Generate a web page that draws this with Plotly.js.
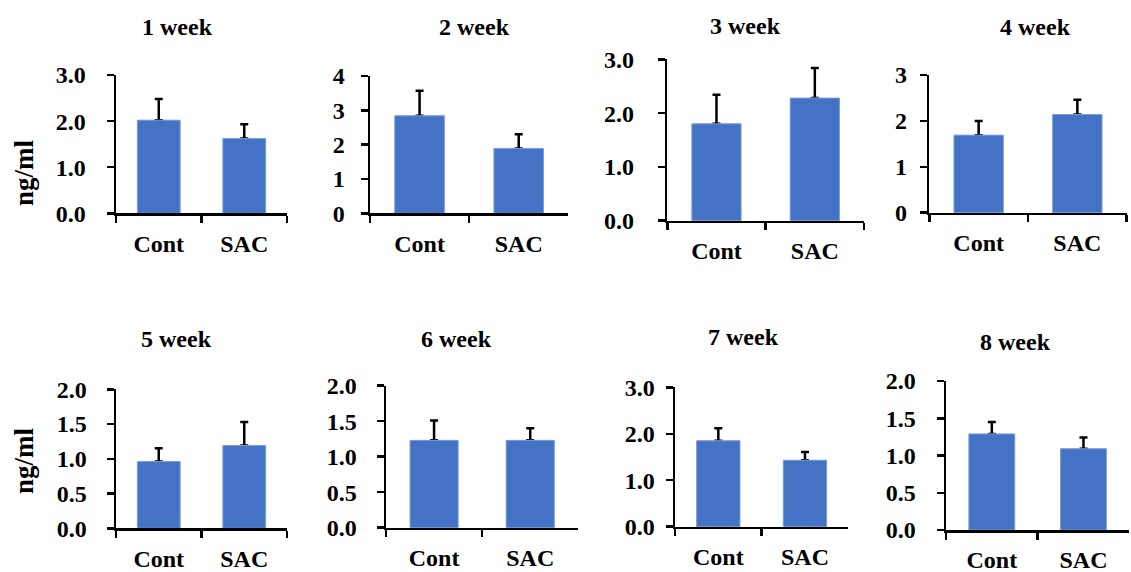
<!DOCTYPE html>
<html>
<head>
<meta charset="utf-8">
<script src="https://cdn.plot.ly/plotly-3.0.1.min.js"></script>
<style>
html, body { margin: 0; padding: 0; background: #ffffff; }
#chart { width: 1131px; height: 572px; }
</style>
</head>
<body>
<div id="chart"></div>
<script>
// ---------------- data ----------------
const categories = ['Cont', 'SAC'];
const panelTitles = ['1 week', '2 week', '3 week', '4 week', '5 week', '6 week', '7 week', '8 week'];
const contMean = [2.02, 2.84, 1.80, 1.69, 0.96, 1.23, 1.85, 1.29];
const sacMean  = [1.62, 1.89, 2.28, 2.14, 1.19, 1.23, 1.43, 1.09];
const contErr  = [0.46, 0.73, 0.54, 0.31, 0.19, 0.28, 0.27, 0.16];
const sacErr   = [0.31, 0.41, 0.56, 0.32, 0.34, 0.17, 0.18, 0.15];
const yMax     = [3, 4, 3, 3, 2, 2, 3, 2];
const yStep    = [1, 1, 1, 1, 0.5, 0.5, 1, 0.5];
const yTickFormat = ['.1f', 'd', '.1f', 'd', '.1f', '.1f', '.1f', '.1f'];
const yLabel = 'ng/ml';

// ---------------- layout geometry (pixels) ----------------
const W = 1131, H = 572;
// [left, right, top, bottom] of each plot area
const boxes = [
  [116, 287, 75, 213.3],
  [370, 568.3, 76, 213.3],
  [667.3, 864, 59.3, 220.7],
  [929.3, 1126.7, 75, 212.7],
  [116, 287, 389.3, 528.3],
  [386, 578.3, 385.7, 527.7],
  [675, 848.3, 387.3, 526.7],
  [946, 1129.3, 381, 530]
];
const titlePos = [[177, 27], [474, 27], [745, 26], [1035, 27], [176, 339], [456, 339], [743, 337], [1015, 342]];
const yStandoff = [16, 11, 19, 8, 15, 15, 6, 16];
const yLabelPos = [[24, 173], [24, 461]];

const FONT = 'Liberation Serif';
const BAR_COLOR = '#4472C4';

const traces = [];
const layout = {
  width: W, height: H,
  margin: {l: 0, r: 0, t: 0, b: 0, pad: 0},
  paper_bgcolor: '#ffffff', plot_bgcolor: 'rgba(0,0,0,0)',
  font: {family: FONT, size: 24, color: '#000000', weight: 'bold'},
  showlegend: false,
  barmode: 'overlay',
  annotations: []
};

for (let i = 0; i < 8; i++) {
  const n = i + 1;
  const xs = n === 1 ? 'x' : 'x' + n;
  const ys = n === 1 ? 'y' : 'y' + n;
  const [l, r, t, b] = boxes[i];
  const means = [contMean[i], sacMean[i]];
  const errs = [contErr[i], sacErr[i]];

  traces.push({
    type: 'bar', x: categories, y: means, width: 0.5,
    xaxis: xs, yaxis: ys, hoverinfo: 'skip',
    marker: {color: BAR_COLOR, line: {width: 0}},
    error_y: {type: 'data', symmetric: false, array: errs, arrayminus: [0, 0],
              color: '#000000', thickness: 2.5, width: 4}
  });
  traces.push({
    type: 'bar', x: categories, y: means, width: 0.5,
    xaxis: xs, yaxis: ys, hoverinfo: 'skip',
    marker: {color: BAR_COLOR, line: {width: 1, color: '#7F9FDA'}}
  });

  layout[n === 1 ? 'xaxis' : 'xaxis' + n] = {
    type: 'category', categoryarray: categories, range: [-0.5, 1.5],
    domain: [l / W, r / W], anchor: ys,
    showline: true, linecolor: '#000000', linewidth: 2.5,
    ticks: 'outside', tickson: 'boundaries', ticklen: 7, tickwidth: 2.5, tickcolor: '#000000',
    showgrid: false, zeroline: false, fixedrange: true,
    tickfont: {family: FONT, size: 24, color: '#000000', weight: 'bold'},
    ticklabelstandoff: 7
  };
  layout[n === 1 ? 'yaxis' : 'yaxis' + n] = {
    range: [0, yMax[i]], tick0: 0, dtick: yStep[i], tickformat: yTickFormat[i],
    domain: [1 - b / H, 1 - t / H], anchor: xs,
    showline: true, linecolor: '#000000', linewidth: 2.5,
    ticks: 'outside', ticklen: 7, tickwidth: 2.5, tickcolor: '#000000',
    showgrid: false, zeroline: false, fixedrange: true,
    tickfont: {family: FONT, size: 24, color: '#000000', weight: 'bold'},
    ticklabelstandoff: yStandoff[i]
  };

  layout.annotations.push({
    text: panelTitles[i], xref: 'paper', yref: 'paper',
    x: titlePos[i][0] / W, y: 1 - titlePos[i][1] / H,
    xanchor: 'center', yanchor: 'middle', showarrow: false,
    font: {family: FONT, size: 24, color: '#000000', weight: 'bold'}
  });
}

yLabelPos.forEach(p => {
  layout.annotations.push({
    text: yLabel, xref: 'paper', yref: 'paper',
    x: p[0] / W, y: 1 - p[1] / H, xanchor: 'center', yanchor: 'middle',
    textangle: -90, showarrow: false,
    font: {family: FONT, size: 27, color: '#000000', weight: 'bold'}
  });
});

Plotly.newPlot('chart', traces, layout, {displayModeBar: false, staticPlot: true});
</script>
</body>
</html>
